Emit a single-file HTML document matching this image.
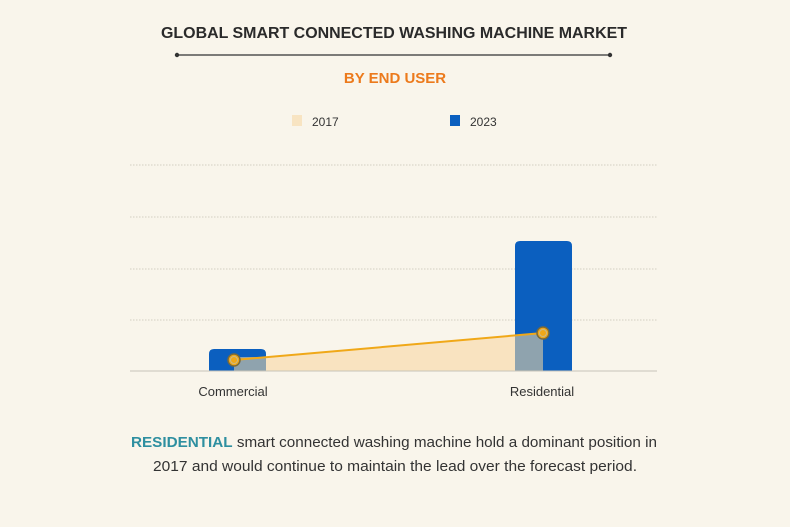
<!DOCTYPE html>
<html><head><meta charset="utf-8"><style>
body{margin:0;width:790px;height:522px;background:#f9f5eb;font-family:"Liberation Sans",sans-serif;overflow:hidden}
</style></head><body>
<svg width="790" height="522" xmlns="http://www.w3.org/2000/svg">
<rect width="790" height="522" fill="#f9f5eb"/>
<text x="394" y="38" text-anchor="middle" font-family="Liberation Sans" font-weight="bold" font-size="16" fill="#2a2a2a" textLength="466" lengthAdjust="spacingAndGlyphs">GLOBAL SMART CONNECTED WASHING MACHINE MARKET</text>
<line x1="177" y1="55" x2="610" y2="55" stroke="#333" stroke-width="1.2"/>
<circle cx="177" cy="55" r="2.2" fill="#333"/><circle cx="610" cy="55" r="2.2" fill="#333"/>
<text x="395" y="83" text-anchor="middle" font-family="Liberation Sans" font-weight="bold" font-size="15" fill="#ec7a1c">BY END USER</text>
<rect x="292" y="115" width="10" height="11" fill="#f8e4c2"/>
<text x="312" y="126" font-size="12" fill="#333">2017</text>
<rect x="450" y="115" width="10" height="11" fill="#0b5fbf"/>
<text x="470" y="126" font-size="12" fill="#333">2023</text>
<g stroke="#d2cec2" stroke-width="1" stroke-dasharray="1.5,1.5">
<line x1="130" y1="165" x2="657" y2="165"/><line x1="130" y1="217" x2="657" y2="217"/>
<line x1="130" y1="269" x2="657" y2="269"/><line x1="130" y1="320" x2="657" y2="320"/>
</g>
<path d="M209 371 V354 Q209 349 214 349 H261 Q266 349 266 354 V371 Z" fill="#0b5fbf"/>
<path d="M515 371 V246 Q515 241 520 241 H567 Q572 241 572 246 V371 Z" fill="#0b5fbf"/>
<polygon points="234,360 543,333 543,371 234,371" fill="#f8e1bb" opacity="0.9"/>
<rect x="234" y="357" width="32" height="14" fill="#8fa3ae"/>
<polygon points="515,335.5 543,333 543,371 515,371" fill="#8fa3ae"/>
<line x1="130" y1="371" x2="657" y2="371" stroke="#c8c4b8" stroke-width="1"/>
<line x1="234" y1="360" x2="543" y2="333" stroke="#f0a818" stroke-width="2"/>
<circle cx="234" cy="360" r="6" fill="#f0a818" stroke="#7a6a3a" stroke-width="1.5"/>
<circle cx="234" cy="360" r="3.5" fill="#f0a818" stroke="#c9b98a" stroke-width="1"/>
<circle cx="543" cy="333" r="6" fill="#f0a818" stroke="#7a6a3a" stroke-width="1.5"/>
<circle cx="543" cy="333" r="3.5" fill="#f0a818" stroke="#c9b98a" stroke-width="1"/>
<text x="233" y="396" text-anchor="middle" font-size="13" fill="#333">Commercial</text>
<text x="542" y="396" text-anchor="middle" font-size="13" fill="#333">Residential</text>
<text x="394" y="447" text-anchor="middle" font-size="15" fill="#333" textLength="526" lengthAdjust="spacingAndGlyphs"><tspan font-weight="bold" fill="#2e8fa0">RESIDENTIAL</tspan> smart connected washing machine hold a dominant position in</text>
<text x="395" y="471" text-anchor="middle" font-size="15" fill="#333" textLength="484" lengthAdjust="spacingAndGlyphs">2017 and would continue to maintain the lead over the forecast period.</text>
</svg>
</body></html>
